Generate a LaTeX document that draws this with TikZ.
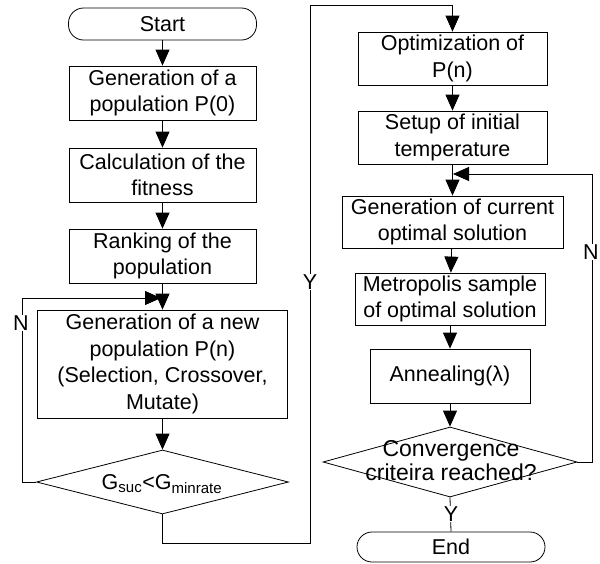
\documentclass[tikz,border=0pt]{standalone}
\usepackage{fontspec}
\setmainfont{Liberation Sans}
\usetikzlibrary{arrows.meta,shapes.geometric}
\begin{document}
\begin{tikzpicture}[x=1pt,y=-1pt,
  font=\fontsize{21.5}{26.5}\selectfont,
  every path/.style={line width=0.8pt},
  box/.style={draw, rectangle, align=center, inner sep=0pt},
  term/.style={draw, rectangle, rounded corners=15pt, align=center, inner sep=0pt},
  dia/.style={draw, diamond, inner sep=0pt},
  arr/.style={-{Triangle[length=16pt,width=14pt]}},
  lbl/.style={fill=white, inner sep=1pt}]
\useasboundingbox (0,0) rectangle (600,563);
% left column
\node[term, minimum width=188, minimum height=32] (start) at (162.5,24) {Start};
\node[box, minimum width=187, minimum height=54] (p0) at (162.5,93) {Generation of a\\population P(0)};
\node[box, minimum width=187, minimum height=54] (fit) at (162.5,175) {Calculation of the\\fitness};
\node[box, minimum width=187, minimum height=54] (rank) at (162.5,256) {Ranking of the\\population};
\node[box, minimum width=250, minimum height=108] (newpop) at (162.5,364) {Generation of a new\\population P(n)\\(Selection, Crossover,\\Mutate)};
\node[dia, minimum width=252, minimum height=64] (d1) at (162.5,482) {};
\node (d1t) at (162,484) {G\textsubscript{suc}<G\textsubscript{minrate}};
% right column
\node[box, minimum width=189, minimum height=53] (opt) at (452.5,58.5) {Optimization of\\P(n)};
\node[box, minimum width=189, minimum height=53] (setup) at (452.5,137.5) {Setup of initial\\temperature};
\node[box, minimum width=221, minimum height=52] (cur) at (452.5,222) {Generation of current\\optimal solution};
\node[box, minimum width=190, minimum height=52] (metro) at (450,299) {Metropolis sample\\of optimal solution};
\node[box, minimum width=160, minimum height=54] (anneal) at (450,376) {Annealing(λ)};
\node[dia, minimum width=254, minimum height=70] (d2) at (450,462) {};
\node[align=center, font=\fontsize{23}{24}\selectfont] (d2t) at (451,461) {Convergence\\criteira reached?};
\node[term, minimum width=188, minimum height=30] (end) at (451,547) {End};
% coordinates
\coordinate (lx) at (22,298);
\coordinate (nl) at (161,298);
\coordinate (yb) at (310,543);
\coordinate (ytop) at (310,5);
\coordinate (rx) at (592,174);
\coordinate (nr) at (453,174);
% connectors
\draw[arr] (start) -- (p0);
\draw[arr] (p0) -- (fit);
\draw[arr] (fit) -- (rank);
\draw[arr] (rank) -- (newpop);
\draw[arr] (newpop.south) -- (d1.north);
\draw[arr] (d1.west) -| (lx) -- (nl);
\draw[arr] (d1.south) |- (yb) -- (ytop) -| (opt.north);
\draw[arr] (opt) -- (setup);
\draw[arr] (setup.south) -- (cur.north);
\draw[arr] (cur) -- (metro);
\draw[arr] (metro) -- (anneal);
\draw[arr] (anneal.south) -- (d2.north);
\draw[arr] (d2.east) -| (rx) -- (nr);
\draw (d2.south) -- (end.north);
% labels
\node[lbl] (ln) at (21,323) {N};
\node[lbl] (ly) at (310,282) {Y};
\node[lbl] (rn) at (591,252) {N};
\node[lbl] (ry) at (451,514) {Y};
\end{tikzpicture}
\end{document}
